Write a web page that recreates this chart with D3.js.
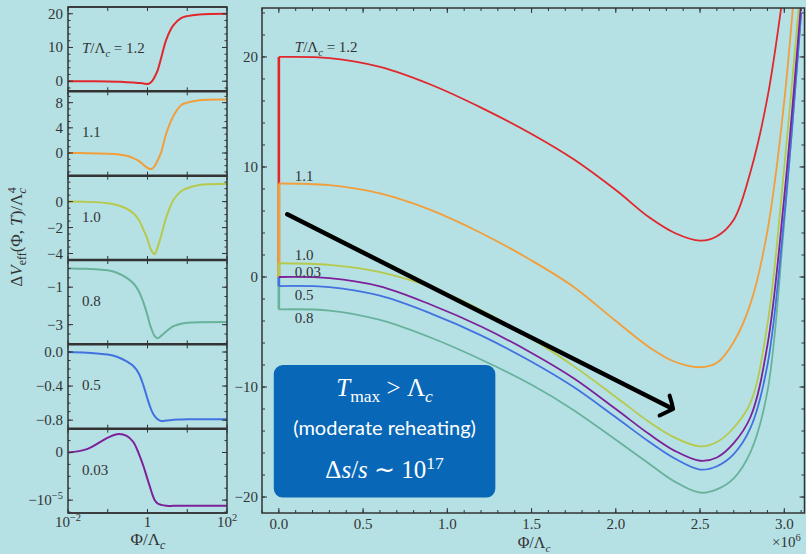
<!DOCTYPE html>
<html>
<head>
<meta charset="utf-8">
<script src="https://cdn.jsdelivr.net/npm/d3@7"></script>
<style>
  body { margin: 0; background: #b5e1e5; }
  svg { display: block; }
  text { font-family: "Liberation Serif", serif; fill: #333; }
</style>
</head>
<body>
<svg id="chart" width="806" height="554"></svg>
<script>
// ---- data ----
const temps = ["1.2", "1.1", "1.0", "0.8", "0.5", "0.03"];
const colors = ["#e2272c", "#f29e3a", "#b6c94b", "#68b29c", "#4271e0", "#7c2199"];

// left panels: Phi/Lambda_c on log axis
const phiLeft = [0.01, 0.03, 0.1, 0.17, 0.3, 0.44, 0.6, 0.8, 1, 1.15, 1.3, 1.5, 1.8, 2.2, 3, 4.5, 7, 10, 20, 100];
const left12 = [0, -0.02, -0.08, -0.15, -0.28, -0.4, -0.52, -0.65, -0.85, -0.55, 0.0, 1.2, 3.2, 6.8, 12.5, 16.6, 18.7, 19.3, 19.8, 20];
const left11 = [0, -0.02, -0.1, -0.2, -0.45, -0.8, -1.25, -1.9, -2.35, -2.55, -2.5, -2.1, -1.2, 0.1, 3.2, 5.9, 7.6, 8.0, 8.4, 8.5];
const left10 = [0, -0.02, -0.12, -0.26, -0.55, -0.9, -1.4, -2.2, -2.9, -3.5, -3.85, -4.05, -3.5, -2.65, -1.16, 0.13, 0.8, 1.03, 1.28, 1.35];
const left08 = [0, -0.02, -0.1, -0.23, -0.5, -0.79, -1.2, -1.85, -2.5, -3.0, -3.3, -3.6, -3.72, -3.6, -3.35, -3.08, -2.95, -2.9, -2.87, -2.86];
const left05 = [0, -0.008, -0.03, -0.055, -0.11, -0.165, -0.25, -0.4, -0.55, -0.635, -0.7, -0.75, -0.79, -0.81, -0.805, -0.795, -0.792, -0.79, -0.79, -0.79];
const left003 = [0, 0.07, 0.31, 0.385, 0.35, 0.22, -0.02, -0.3, -0.56, -0.72, -0.86, -0.99, -1.07, -1.1, -1.12, -1.12, -1.12, -1.12, -1.12, -1.12]; // x 1e-5
const leftSeries = [left12, left11, left10, left08, left05, left003];
const leftDomains = [[-3, 22], [-3.6, 9.8], [-4.5, 2], [-4.05, 0.45], [-0.9, 0.09], [-1.27, 0.5]];
const leftMajor = [[0, 10, 20], [0, 4, 8], [0, -2, -4], [-1, -3], [0, -0.4, -0.8], [0, -1]];
const leftMajorLabels = [["0", "10", "20"], ["0", "4", "8"], ["0", "−2", "−4"], ["−1", "−3"], ["0.0", "−0.4", "−0.8"], ["0", "−10|−5"]];
const leftMinorStep = [2, 1, 0.5, 0.5, 0.1, 0.25];
const leftXTicks = [0.01, 0.1, 1, 10, 100];
const leftXLabels = [[0.01, "10|−2"], [1, "1"], [100, "10|2"]];

// right panel: Phi/Lambda_c in units of 1e6
const phiRight = [0, 0.3, 0.6, 0.9, 1.2, 1.5, 1.75, 2.0, 2.2, 2.35, 2.5, 2.6, 2.7, 2.8, 2.9, 3.0, 3.1];
const right12 = [20, 19.9, 19.1, 17.5, 15.4, 13.0, 10.7, 7.9, 5.4, 4.0, 3.3, 3.7, 5.2, 9.6, 16.3, 26.6, 40];
const right11 = [8.5, 8.35, 7.6, 6.1, 4.0, 1.5, -0.9, -4.0, -6.4, -7.7, -8.2, -7.8, -5.9, -2.4, 4.2, 16, 34];
const right10 = [1.25, 1.1, 0.45, -0.9, -3.0, -5.6, -8.1, -10.9, -13.2, -14.6, -15.4, -15.0, -13.7, -11.4, -4.3, 10, 27];
const right08 = [-2.94, -3.05, -3.9, -5.5, -7.5, -9.8, -12.1, -14.8, -17.0, -18.6, -19.6, -19.3, -18.3, -15.9, -10.4, 5, 24];
const right05 = [-0.82, -0.92, -1.7, -3.3, -5.3, -7.7, -10.0, -12.75, -15.0, -16.5, -17.5, -17.2, -16.1, -13.7, -8.0, 5.5, 24];
const right003 = [0, -0.1, -0.85, -2.5, -4.5, -6.9, -9.2, -12.0, -14.3, -15.8, -16.7, -16.4, -15.1, -12.7, -6.2, 7.3, 25];
const rightSeries = [right12, right11, right10, right08, right05, right003];
const rightXTicks = [0, 0.5, 1, 1.5, 2, 2.5, 3];
const rightYTicks = [-20, -10, 0, 10, 20];
const arrowFrom = [0.05, 5.7];
const arrowTo = [2.34, -12.0];

// ---- helpers ----
const svg = d3.select("#chart");
const ink = "#333";

// parts: [text, style, dx] where style: "i" italic, "sub", "sup", "isub", "isup"
function mathText(sel, parts, size) {
    let shift = 0;
    parts.forEach(p => {
        const [t, st, dx] = p;
        const s = st && st.includes("sub") ? size * 0.25 : st && st.includes("sup") ? -size * 0.38 : 0;
        const ts = sel.append("tspan").text(t).attr("dy", s - shift);
        if (s !== 0) ts.attr("font-size", size * 0.7);
        if (st && st.startsWith("i")) ts.attr("font-style", "italic");
        if (dx) ts.attr("dx", dx);
        shift = s;
    });
}

function powLabel(sel, str, size) {
    const [base, exp] = str.split("|");
    if (exp === undefined) { sel.text(base); return; }
    mathText(sel, [[base], [exp, "sup"]], size);
}

function ticks(g, scale, orient, values, len, a0, a1) {
    // inward ticks on both opposite sides of a frame
    values.forEach(v => {
        const p = scale(v);
        if (orient === "y") {
            g.append("line").attr("x1", a0).attr("x2", a0 + len).attr("y1", p).attr("y2", p);
            g.append("line").attr("x1", a1).attr("x2", a1 - len).attr("y1", p).attr("y2", p);
        } else {
            g.append("line").attr("y1", a0).attr("y2", a0 - len).attr("x1", p).attr("x2", p);
            g.append("line").attr("y1", a1).attr("y2", a1 + len).attr("x1", p).attr("x2", p);
        }
    });
}

// ---- left stacked panels ----
const L = {left: 68, right: 227, top: 7, bottom: 513};
const panelH = (L.bottom - L.top) / temps.length;
const xL = d3.scaleLog().domain([0.01, 100]).range([L.left, L.right]);

temps.forEach((t, i) => {
    const top = L.top + i * panelH, bot = top + panelH;
    const y = d3.scaleLinear().domain(leftDomains[i]).range([bot, top]);
    const g = svg.append("g");
    const clipId = "clipL" + i;
    svg.append("clipPath").attr("id", clipId).append("rect")
        .attr("x", L.left).attr("y", top).attr("width", L.right - L.left).attr("height", panelH);

    const line = d3.line().x((d, j) => xL(phiLeft[j])).y(d => y(d)).curve(d3.curveCatmullRom.alpha(0.5));
    g.append("path").datum(leftSeries[i])
        .attr("clip-path", `url(#${clipId})`)
        .attr("fill", "none").attr("stroke", colors[i]).attr("stroke-width", 2).attr("d", line);

    const tk = g.append("g").attr("stroke", ink).attr("stroke-width", 1);
    const [d0, d1] = leftDomains[i];
    const step = leftMinorStep[i];
    const minor = d3.range(Math.ceil(d0 / step) * step, d1, step).map(v => +v.toFixed(4));
    ticks(tk, y, "y", minor, 2.5, L.left, L.right);
    ticks(tk, y, "y", leftMajor[i], 5, L.left, L.right);
    ticks(tk, xL, "x", leftXTicks, 4, bot, top);

    leftMajor[i].forEach((v, j) => {
        const txt = g.append("text").attr("x", L.left - 5).attr("y", y(v) + 5)
            .attr("text-anchor", "end").attr("font-size", 15);
        powLabel(txt, leftMajorLabels[i][j], 15);
    });

    const lab = g.append("text").attr("x", 82).attr("y", top + 46).attr("font-size", 15);
    if (i === 0) {
        mathText(lab, [["T", "i"], ["/Λ"], ["c", "isub"], [" = 1.2"]], 15);
    } else {
        lab.text(t);
    }
});

// frames and separators
svg.append("rect").attr("x", L.left).attr("y", L.top).attr("width", L.right - L.left)
    .attr("height", L.bottom - L.top).attr("fill", "none").attr("stroke", ink).attr("stroke-width", 1.5);
d3.range(0, temps.length + 1).forEach(i => {
    const yy = L.top + i * panelH;
    svg.append("line").attr("x1", L.left).attr("x2", L.right).attr("y1", yy).attr("y2", yy)
        .attr("stroke", ink).attr("stroke-width", i === 0 || i === temps.length ? 1.5 : 2.5);
});

leftXLabels.forEach(([v, s]) => {
    const txt = svg.append("text").attr("x", xL(v)).attr("y", 527)
        .attr("text-anchor", "middle").attr("font-size", 15);
    powLabel(txt, s, 15);
});
mathText(svg.append("text").attr("x", 148).attr("y", 545).attr("text-anchor", "middle").attr("font-size", 17),
    [["Φ/Λ"], ["c", "isub"]], 17);

const yl = svg.append("text").attr("transform", "translate(22,237) rotate(-90)")
    .attr("text-anchor", "middle").attr("font-size", 17);
mathText(yl, [["Δ"], ["V", "i"], ["eff", "sub"], ["(Φ, "], ["T", "i"], [")/Λ"], ["c", "isub"], ["4", "sup", -5]], 17);

// ---- right panel ----
const R = {left: 262, right: 804.5, top: 8, bottom: 513};
const xR = d3.scaleLinear().domain([-0.1, 3.12]).range([R.left, R.right]);
const yR = d3.scaleLinear().domain([-21.45, 24.45]).range([R.bottom, R.top]);

svg.append("clipPath").attr("id", "clipR").append("rect")
    .attr("x", R.left).attr("y", R.top).attr("width", R.right - R.left).attr("height", R.bottom - R.top);
const gR = svg.append("g").attr("clip-path", "url(#clipR)");

// vertical jumps at Phi = 0
rightSeries.forEach((s, i) => {
    gR.append("line").attr("x1", xR(0)).attr("x2", xR(0)).attr("y1", yR(0)).attr("y2", yR(s[0]))
        .attr("stroke", colors[i]).attr("stroke-width", 2.6);
});

const lineR = d3.line().x((d, j) => xR(phiRight[j])).y(d => yR(d)).curve(d3.curveCatmullRom.alpha(0.5));
rightSeries.forEach((s, i) => {
    gR.append("path").datum(s).attr("fill", "none").attr("stroke", colors[i])
        .attr("stroke-width", 1.8).attr("d", lineR);
});

// curve labels
const labelDy = [-5, -2, -3, 14, 14, 0];
temps.forEach((t, i) => {
    const y0 = yR(rightSeries[i][0]) + labelDy[i];
    const lab = svg.append("text").attr("x", xR(0.095)).attr("y", y0).attr("font-size", 15);
    if (i === 0) mathText(lab, [["T", "i"], ["/Λ"], ["c", "isub"], [" = 1.2"]], 15);
    else lab.text(t);
});

// arrow
const ax = xR(arrowTo[0]), ay = yR(arrowTo[1]);
gR.append("line").attr("x1", xR(arrowFrom[0])).attr("y1", yR(arrowFrom[1]))
    .attr("x2", ax - 2).attr("y2", ay - 1)
    .attr("stroke", "#000").attr("stroke-width", 4.5).attr("stroke-linecap", "round");
gR.append("path")
    .attr("d", `M${ax - 3.5},${ay - 13.5} Q${ax - 1},${ay - 6} ${ax},${ay} L${ax - 13.5},${ay + 6.5}`)
    .attr("fill", "none").attr("stroke", "#000").attr("stroke-width", 4)
    .attr("stroke-linecap", "round").attr("stroke-linejoin", "round");

// frame and ticks
svg.append("rect").attr("x", R.left).attr("y", R.top).attr("width", R.right - R.left)
    .attr("height", R.bottom - R.top).attr("fill", "none").attr("stroke", ink).attr("stroke-width", 1.5);
const tkR = svg.append("g").attr("stroke", ink).attr("stroke-width", 1);
ticks(tkR, xR, "x", d3.range(-1, 32).map(v => v / 10), 3, R.bottom, R.top);
ticks(tkR, xR, "x", rightXTicks, 5, R.bottom, R.top);
ticks(tkR, yR, "y", d3.range(-20, 25, 2), 3, R.left, R.right);
ticks(tkR, yR, "y", rightYTicks, 5, R.left, R.right);

rightXTicks.forEach(v => {
    svg.append("text").attr("x", xR(v)).attr("y", 529).attr("text-anchor", "middle")
        .attr("font-size", 15).text(d3.format(".1f")(v));
});
rightYTicks.forEach(v => {
    svg.append("text").attr("x", R.left - 4).attr("y", yR(v) + 5).attr("text-anchor", "end")
        .attr("font-size", 15).text(d3.format("d")(v));
});
mathText(svg.append("text").attr("x", 534).attr("y", 548).attr("text-anchor", "middle").attr("font-size", 16),
    [["Φ/Λ"], ["c", "isub"]], 16);
mathText(svg.append("text").attr("x", 772).attr("y", 547).attr("font-size", 15),
    [["×10"], ["6", "sup"]], 15);

// annotation box
const bx0 = xR(-0.03), bx1 = xR(1.285), by0 = yR(-8.0), by1 = yR(-20.05);
svg.append("rect").attr("x", bx0).attr("y", by0).attr("width", bx1 - bx0).attr("height", by1 - by0)
    .attr("rx", 9).attr("fill", "#0868b7");
const cx = (bx0 + bx1) / 2;
mathText(svg.append("text").attr("x", cx).attr("y", by0 + 31).attr("text-anchor", "middle")
    .attr("font-size", 25).style("fill", "#fff"),
    [["T", "i"], ["max", "sub"], [" > Λ"], ["c", "isub"]], 25);
svg.append("text").attr("x", cx).attr("y", by0 + 70).attr("text-anchor", "middle")
    .attr("font-size", 20).style("font-family", "Lato, sans-serif").style("fill", "#fff")
    .text("(moderate reheating)");
mathText(svg.append("text").attr("x", cx).attr("y", by0 + 113).attr("text-anchor", "middle")
    .attr("font-size", 25).style("fill", "#fff"),
    [["Δ"], ["s", "i"], ["/"], ["s", "i"], [" ∼ 10"], ["17", "sup"]], 25);
</script>
</body>
</html>
